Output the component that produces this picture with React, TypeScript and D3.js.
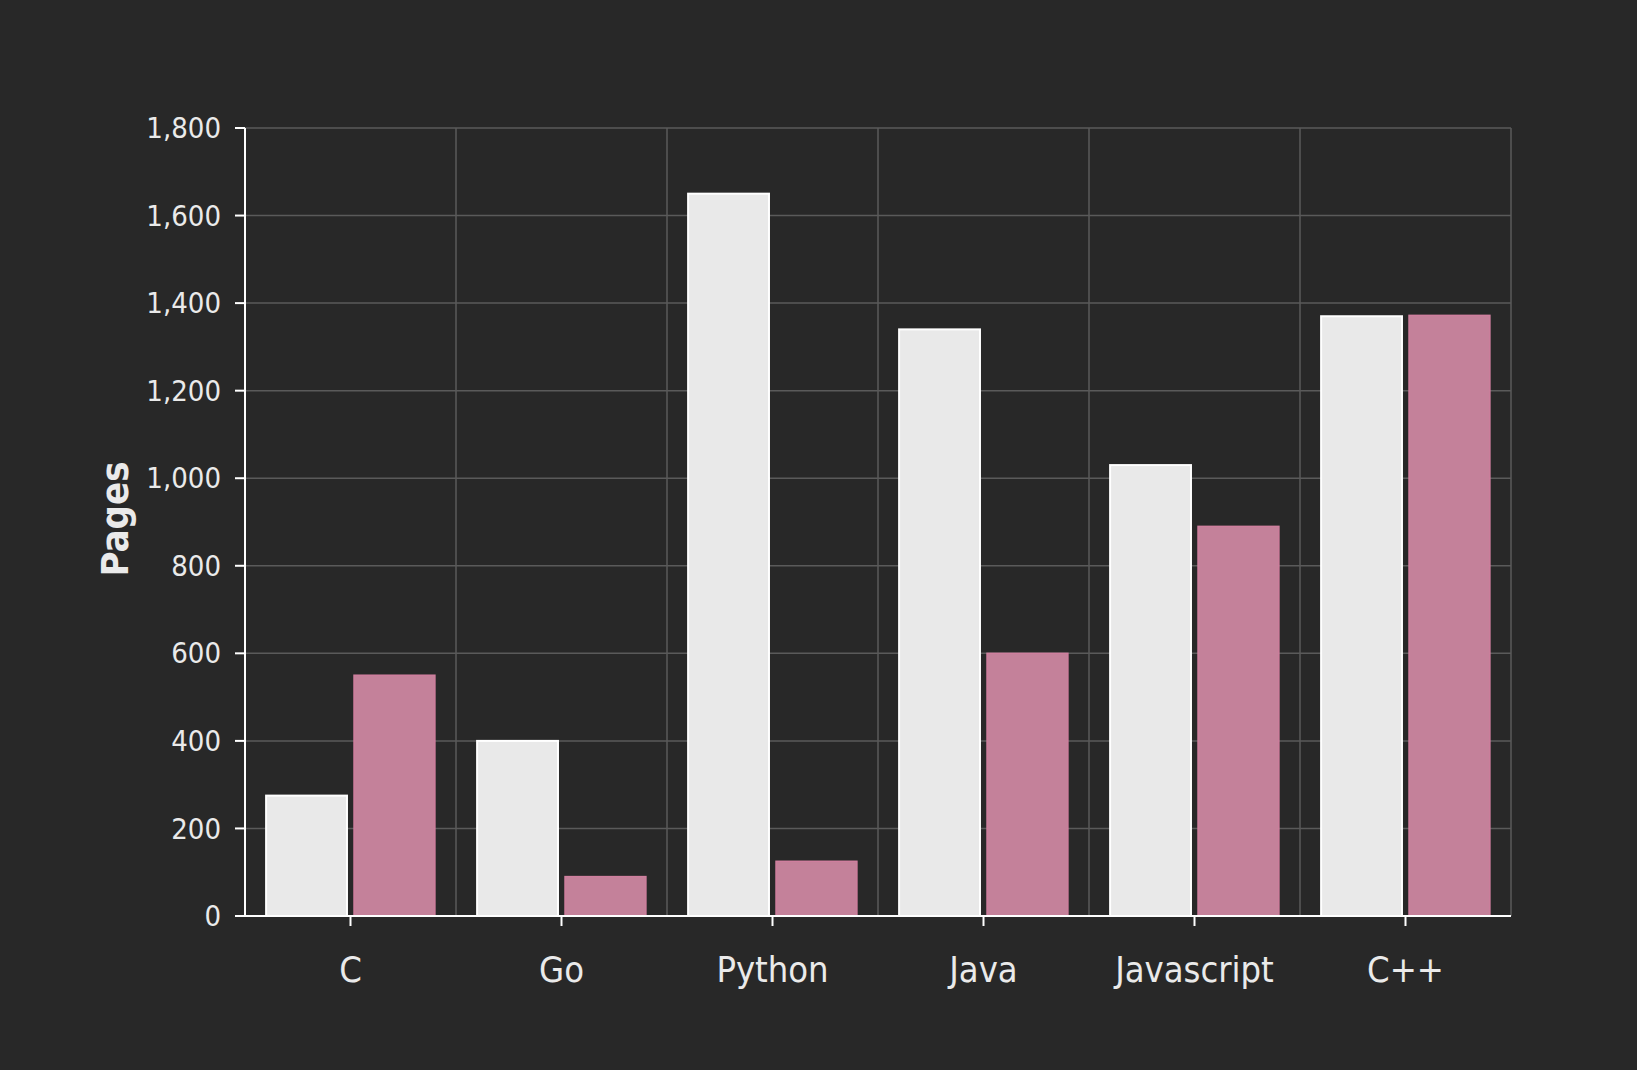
import React, { useEffect } from 'react';
import * as d3 from 'd3';

const languages = ['C', 'Go', 'Python', 'Java', 'Javascript', 'C++'];
const seriesA = [275, 400, 1650, 1340, 1030, 1370];
const seriesB = [550, 90, 125, 600, 890, 1372];
const yTicks = [0, 200, 400, 600, 800, 1000, 1200, 1400, 1600, 1800];

const W = 1637;
const H = 1070;
const margin = { top: 128, right: 126, bottom: 154, left: 245 };
const FONT = '"DejaVu Sans Condensed", "Liberation Sans Narrow", sans-serif';

export default function App() {
  useEffect(() => {
    document.body.style.margin = '0';
    document.body.style.background = '#282828';
  }, []);

  const innerW = W - margin.left - margin.right;
  const innerH = H - margin.top - margin.bottom;

  const x0 = d3.scaleBand()
    .domain(languages)
    .range([0, innerW])
    .paddingInner(0.2)
    .paddingOuter(0.1);

  const x1 = d3.scaleBand()
    .domain(['a', 'b'])
    .range([0, x0.bandwidth()])
    .paddingInner(0.08);

  const y = d3.scaleLinear().domain([0, 1800]).range([innerH, 0]);

  const step = x0.step();
  const gridX = d3.range(languages.length + 1).map((i) => i * step);

  const bars = languages.map((lang, i) => {
    const bx = x0(lang);
    return (
      <g key={lang}>
        <rect
          x={bx + x1('a')}
          y={y(seriesA[i])}
          width={x1.bandwidth()}
          height={innerH - y(seriesA[i])}
          fill="#e9e9e9"
          stroke="#ffffff"
          strokeWidth={2}
        />
        <rect
          x={bx + x1('b')}
          y={y(seriesB[i])}
          width={x1.bandwidth()}
          height={innerH - y(seriesB[i])}
          fill="#c4819a"
          stroke="#cf7f9e"
          strokeWidth={1.5}
        />
      </g>
    );
  });

  return (
    <svg width={W} height={H} style={{ display: 'block', background: '#282828' }}>
      <g transform={`translate(${margin.left},${margin.top})`}>
        {/* grid */}
        {yTicks.map((t) => (
          <line key={'gy' + t} x1={0} x2={innerW} y1={y(t)} y2={y(t)} stroke="#5a5a5a" strokeWidth={1.5} />
        ))}
        {gridX.map((gx, i) => (
          <line key={'gx' + i} x1={gx} x2={gx} y1={0} y2={innerH} stroke="#5a5a5a" strokeWidth={1.5} />
        ))}

        {bars}

        {/* axes */}
        <line x1={0} x2={0} y1={0} y2={innerH} stroke="#fff" strokeWidth={2} />
        <line x1={0} x2={innerW} y1={innerH} y2={innerH} stroke="#fff" strokeWidth={2} />
        {yTicks.map((t) => (
          <g key={'yt' + t} transform={`translate(0,${y(t)})`}>
            <line x1={-10} x2={0} stroke="#fff" strokeWidth={2} />
            <text
              x={-24}
              dy="0.35em"
              textAnchor="end"
              fill="#eaeaea"
              fontFamily={FONT}
              fontSize={29}
            >
              {d3.format(',')(t)}
            </text>
          </g>
        ))}
        {languages.map((lang) => {
          const cx = x0(lang) + x0.bandwidth() / 2;
          return (
            <g key={'xt' + lang} transform={`translate(${cx},${innerH})`}>
              <line y1={0} y2={10} stroke="#fff" strokeWidth={2} />
              <text y={66} textAnchor="middle" fill="#eaeaea" fontFamily={FONT} fontSize={36}>
                {lang}
              </text>
            </g>
          );
        })}
        <text
          transform={`translate(${-117},${innerH / 2 - 3}) rotate(-90)`}
          textAnchor="middle"
          fill="#eaeaea"
          fontFamily={FONT}
          fontSize={38}
          fontWeight="bold"
        >
          Pages
        </text>
      </g>
    </svg>
  );
}
